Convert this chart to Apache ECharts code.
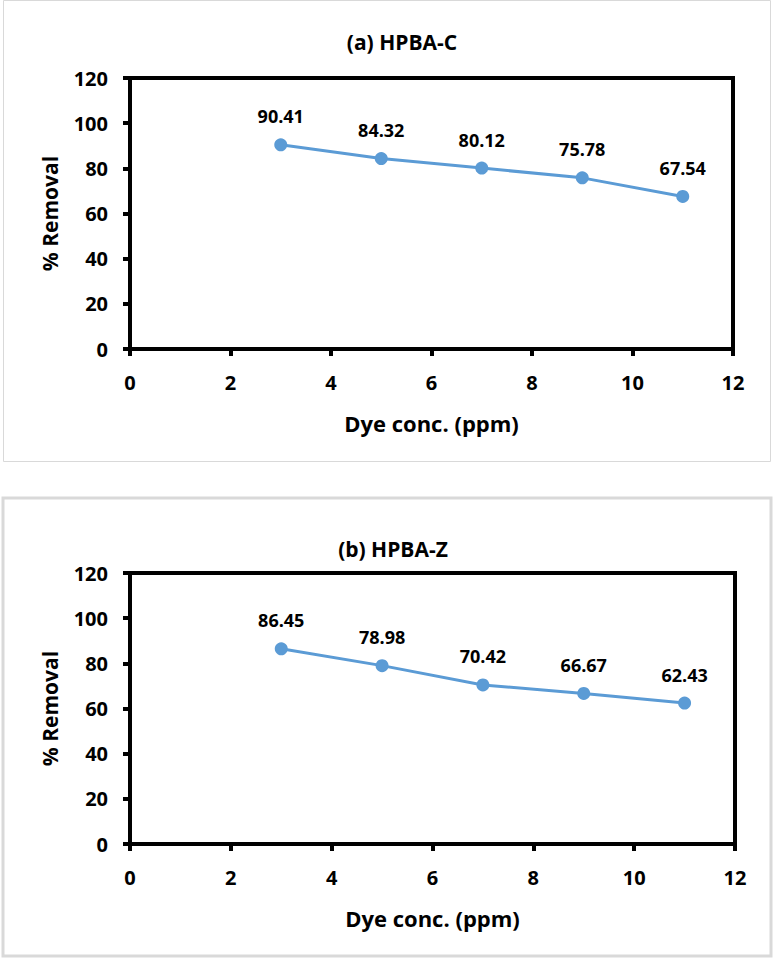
<!DOCTYPE html>
<html><head><meta charset="utf-8">
<script src="https://cdn.jsdelivr.net/npm/echarts@6/dist/echarts.min.js"></script>
<style>html,body{margin:0;padding:0;background:#fff}#c{width:774px;height:961px}</style>
</head><body><div id="c"></div>
<script>
const dyeConc = [3, 5, 7, 9, 11];
const removalC = [90.41, 84.32, 80.12, 75.78, 67.54];
const removalZ = [86.45, 78.98, 70.42, 66.67, 62.43];
const titleA = '(a) HPBA-C';
const titleB = '(b) HPBA-Z';
const xName = 'Dye conc. (ppm)';
const yName = '% Removal';

const FONT = '"Open Sans"';
const chart = echarts.init(document.getElementById('c'), null, {renderer: 'svg'});

function mkX(gi) {
  return {
    gridIndex: gi, type: 'value', min: 0, max: 12, interval: 2,
    name: xName, nameLocation: 'middle', nameGap: 63,
    nameTextStyle: {fontFamily: FONT, fontWeight: 'bold', fontSize: 22, color: '#000'},
    axisLine: {show: true, onZero: false, lineStyle: {color: '#000', width: 4}},
    axisTick: {show: true, length: 7, lineStyle: {color: '#000', width: 4}},
    axisLabel: {fontFamily: FONT, fontWeight: 'bold', fontSize: 20, color: '#000', margin: 23},
    splitLine: {show: false}
  };
}
function mkY(gi) {
  return {
    gridIndex: gi, type: 'value', min: 0, max: 120, interval: 20,
    name: yName, nameLocation: 'middle', nameGap: 70,
    nameTextStyle: {fontFamily: FONT, fontWeight: 'bold', fontSize: 21, color: '#000'},
    axisLine: {show: true, lineStyle: {color: '#000', width: 4}},
    axisTick: {show: true, length: 7, lineStyle: {color: '#000', width: 4}},
    axisLabel: {fontFamily: FONT, fontWeight: 'bold', fontSize: 20, color: '#000', margin: 22},
    splitLine: {show: false}
  };
}
function mkS(gi, vals) {
  return {
    type: 'line', xAxisIndex: gi, yAxisIndex: gi,
    data: dyeConc.map((x, i) => [x, vals[i]]),
    symbol: 'circle', symbolSize: 13,
    lineStyle: {width: 3},
    label: {show: true, position: 'top', distance: 13,
      fontFamily: FONT, fontWeight: 'bold', fontSize: 18, color: '#000',
      formatter: p => p.value[1].toFixed(2)}
  };
}

chart.setOption({
  animation: false,
  color: ['#5b9bd5', '#5b9bd5'],
  title: [
    {text: titleA, left: 397, top: 26, textAlign: 'center',
     textStyle: {fontFamily: FONT, fontWeight: 'bold', fontSize: 21, color: '#000'}},
    {text: titleB, left: 388, top: 533, textAlign: 'center',
     textStyle: {fontFamily: FONT, fontWeight: 'bold', fontSize: 21, color: '#000'}}
  ],
  graphic: [
    {type: 'rect', shape: {x: 3.5, y: 0.5, width: 767, height: 461}, style: {fill: 'none', stroke: '#d9d9d9', lineWidth: 1}, silent: true},
    {type: 'rect', shape: {x: 3, y: 498, width: 768, height: 458}, style: {fill: 'none', stroke: '#d9d9d9', lineWidth: 3}, silent: true}
  ],
  grid: [
    {left: 130, top: 78, width: 603, height: 271, show: true, borderColor: '#000', borderWidth: 4},
    {left: 130, top: 573, width: 605, height: 271, show: true, borderColor: '#000', borderWidth: 4}
  ],
  xAxis: [mkX(0), mkX(1)],
  yAxis: [mkY(0), mkY(1)],
  series: [mkS(0, removalC), mkS(1, removalZ)]
});
</script></body></html>
